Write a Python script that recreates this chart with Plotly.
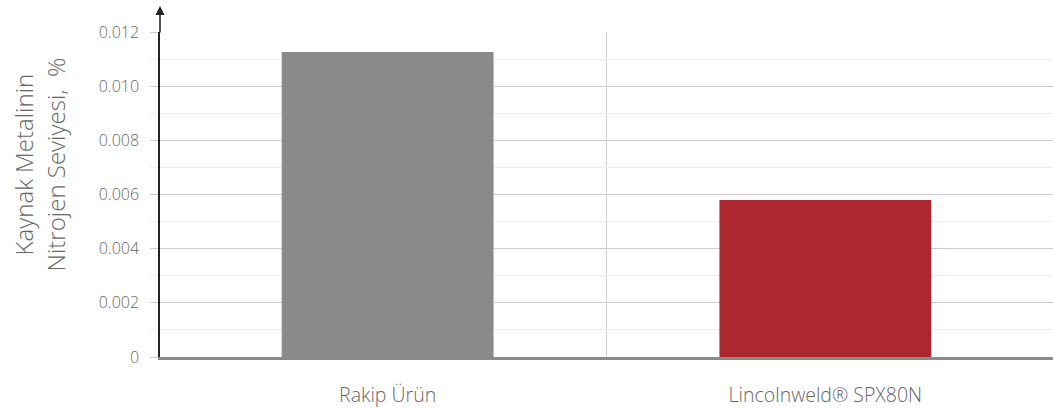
import plotly.graph_objects as go

# Data
categories = ["Rakip Ürün", "Lincolnweld® SPX80N"]
nitrogen = [0.01126, 0.0058]
bar_colors = ["#8a8a8a", "#ad2730"]
y_ticks = [0, 0.002, 0.004, 0.006, 0.008, 0.010, 0.012]
y_ticktext = ["0", "0.002", "0.004", "0.006", "0.008", "0.010", "0.012"]

fig = go.Figure()

fig.add_trace(go.Bar(
    x=categories,
    y=nitrogen,
    marker=dict(color=bar_colors, line=dict(width=0)),
    width=0.484,
    hoverinfo="x+y",
))

# divider between the two categories
fig.add_shape(type="line", xref="x", yref="paper", x0=0.5, x1=0.5, y0=0, y1=1,
              line=dict(color="#d0d0d0", width=1), layer="below")

# Arrow on top of the y axis
fig.add_annotation(
    x=0, y=1.08, xref="paper", yref="paper",
    ax=0, ay=28, axref="pixel", ayref="pixel",
    text="", showarrow=True, arrowhead=2, arrowsize=1.2,
    arrowwidth=1.5, arrowcolor="#222",
)

# y axis title (rotated annotation, sits a bit above centre like the reference)
fig.add_annotation(
    x=-0.135, y=0.594, xref="paper", yref="paper",
    text="Kaynak Metalinin<br>Nitrojen Seviyesi,  %",
    textangle=-90, showarrow=False, xanchor="center", yanchor="middle",
    font=dict(size=24, color="#666"),
)

fig.update_layout(
    width=1053,
    height=408,
    margin=dict(l=160, r=0, t=32, b=51, autoexpand=False),
    plot_bgcolor="white",
    paper_bgcolor="white",
    font=dict(family="Open Sans", size=16, color="#666", weight=300),
    showlegend=False,
    xaxis=dict(
        range=[-0.52, 1.52],
        showline=True, linecolor="#8a8a8a", linewidth=2.5,
        showgrid=False,
        ticks="", ticklabelstandoff=19,
        tickfont=dict(size=19.5, color="#666"),
    ),
    yaxis=dict(
        range=[0, 0.012],
        tickvals=y_ticks,
        ticktext=y_ticktext,
        showline=True, linecolor="#222", linewidth=1.5,
        showgrid=True, gridcolor="#cccccc", gridwidth=1,
        ticks="outside", ticklen=8, tickcolor="#cccccc",
        ticklabelstandoff=8,
        tickfont=dict(size=16, color="#666"),
        zeroline=False,
        minor=dict(dtick=0.001, showgrid=True, gridcolor="#ececec",
                   ticks="outside", ticklen=8, tickcolor="#ececec"),
    ),
)

fig.write_html("out.html", config={"displayModeBar": False},
               post_script="document.body.style.margin='0';")
